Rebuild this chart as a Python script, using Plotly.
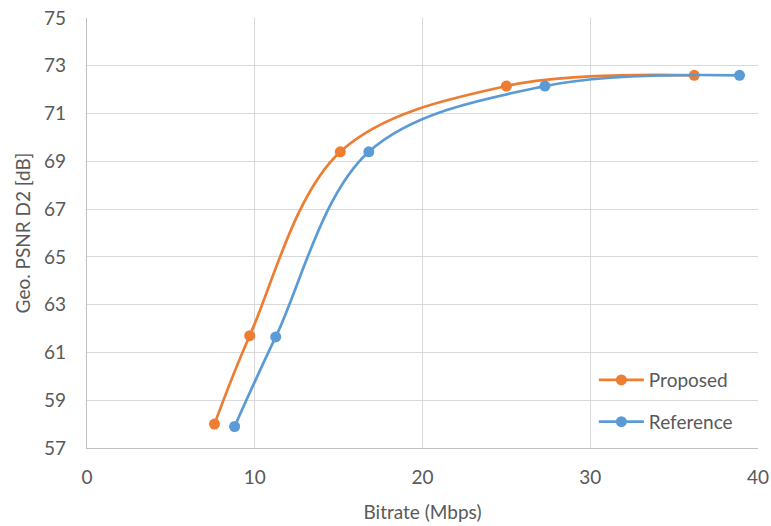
import plotly.graph_objects as go

proposed_x = [7.6, 9.7, 15.1, 25.0, 36.2]
proposed_y = [58.0, 61.7, 69.4, 72.15, 72.6]
reference_x = [8.8, 11.25, 16.8, 27.3, 38.9]
reference_y = [57.9, 61.65, 69.4, 72.15, 72.6]

x_ticks = [0, 10, 20, 30, 40]
y_ticks = [57, 59, 61, 63, 65, 67, 69, 71, 73, 75]

ORANGE = "#ED7D31"
BLUE = "#5B9BD5"
TEXT = "#595959"
GRID = "#D9D9D9"
FONT = "Lato, Open Sans, sans-serif"

fig = go.Figure()
fig.add_trace(go.Scatter(x=proposed_x, y=proposed_y, name="Proposed",
                         mode="lines+markers", legendgroup="p",
                         line=dict(color=ORANGE, width=2.7, shape="spline", smoothing=1.0),
                         marker=dict(color=ORANGE, size=11)))
fig.add_trace(go.Scatter(x=reference_x, y=reference_y, name="Reference",
                         mode="lines+markers", legendgroup="r",
                         line=dict(color=BLUE, width=2.7, shape="spline", smoothing=1.0),
                         marker=dict(color=BLUE, size=11)))

fig.update_layout(
    width=771, height=526,
    margin=dict(l=87, r=13, t=18, b=78),
    paper_bgcolor="white", plot_bgcolor="white",
    font=dict(family=FONT, color=TEXT, size=18),
    showlegend=True,
    legend=dict(x=0.97, y=0.016, xanchor="right", yanchor="bottom",
                bgcolor="rgba(0,0,0,0)", font=dict(size=19, color=TEXT),
                tracegroupgap=14, itemwidth=45),
    xaxis=dict(range=[0, 40], tickvals=x_ticks, ticktext=[str(v) for v in x_ticks],
               showgrid=True, gridcolor=GRID, gridwidth=1.3,
               showline=True, linecolor="#BFBFBF", linewidth=1.3,
               zeroline=False, ticks="", tickfont=dict(size=19),
               ticklabelstandoff=12, automargin=False,
               title=dict(text="Bitrate (Mbps)", font=dict(size=19), standoff=18)),
    yaxis=dict(range=[57, 75], tickvals=y_ticks, ticktext=[str(v) for v in y_ticks],
               showgrid=True, gridcolor=GRID, gridwidth=1.3,
               showline=True, linecolor="#BFBFBF", linewidth=1.3,
               zeroline=False, ticks="", tickfont=dict(size=19),
               ticklabelstandoff=16, automargin=False,
               title=dict(text="Geo. PSNR D2 [dB]", font=dict(size=19), standoff=8)),
)

fig.write_html("out.html", config={"displayModeBar": False},
               post_script="document.body.style.margin='0';")
